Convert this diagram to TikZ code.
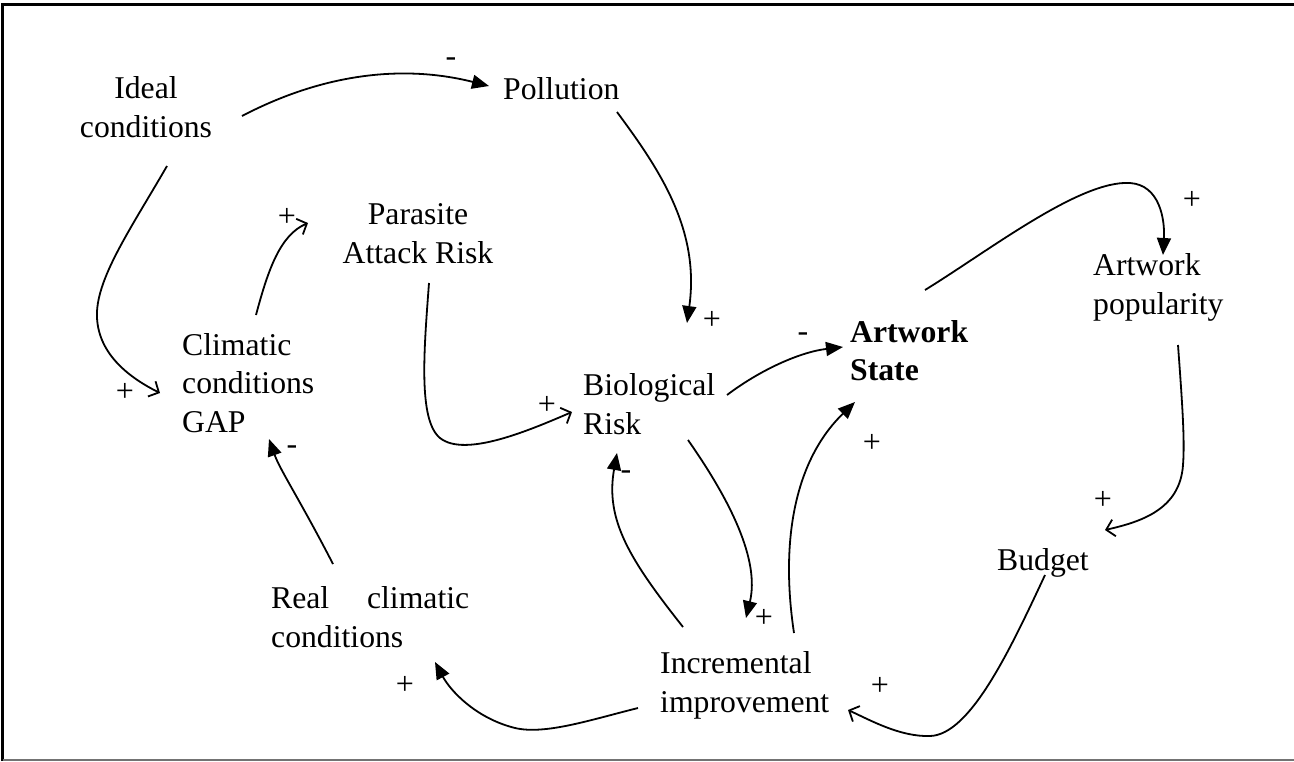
\documentclass[tikz,border=0pt]{standalone}
\usepackage{fontspec}
\setmainfont{Liberation Serif}
\usetikzlibrary{arrows.meta}

\tikzset{
  lbl/.style={inner sep=0pt, font=\fontsize{31.7}{38.3}\selectfont},
  sgn/.style={inner sep=0pt, font=\fontsize{32}{32}\selectfont},
  link/.style={line width=1.8pt},
  solidhead/.style={link, -{Triangle[length=17pt,width=14pt]}},
  openhead/.style={link, -{Straight Barb[length=8pt,width=17pt,line width=1.8pt]}},
}

\begin{document}
\begin{tikzpicture}[x=1pt,y=-1pt]
\useasboundingbox (0,0) rectangle (1294,761);
% frame
\draw[line width=3pt] (2.5,761) -- (2.5,4) -- (1294,4);
\draw[line width=2pt,black!55] (2.5,759.5) -- (1294,759.5);

% variables (each placed at the baseline of its last line)
\node[lbl, align=center, anchor=base] (ideal) at (146,137) {Ideal\\conditions};
\node[lbl, anchor=base west] (pollution) at (503,99) {Pollution};
\node[lbl, align=center, anchor=base] (parasite) at (418,263) {Parasite\\Attack Risk};
\node[lbl, align=left, anchor=base west] (gap) at (182,432) {Climatic\\conditions\\GAP};
\node[lbl, align=left, anchor=base west] (bio) at (583,434) {Biological\\Risk};
\node[lbl, align=left, anchor=base west, font=\fontsize{31.7}{38}\selectfont\bfseries] (state) at (850,380) {Artwork\\State};
\node[lbl, align=left, anchor=base west] (popularity) at (1093,314) {Artwork\\popularity};
\node[lbl, anchor=base west] (budget) at (997,570) {Budget};
\node[lbl, align=left, anchor=base west] (real) at (271,647) {\makebox[198pt][s]{Real climatic}\\conditions};
\node[lbl, align=left, anchor=base west] (incr) at (660,712) {Incremental\\improvement};

% causal links
\draw[solidhead] ([shift={(96,-21)}]ideal.base) .. controls (330,70) and (410,66) .. ([shift={(-14,-13)}]pollution.base west);
\node[sgn] (s1) at ([shift={(-52,-37)}]pollution.base west) {-};

\draw[openhead] ([shift={(21,29)}]ideal.base) .. controls (130,230) and (95,280) .. (97,318) .. controls (99,355) and (130,378) .. ([shift={(-22,-39)}]gap.base west);
\node[sgn] (s2) at ([shift={(-57,-40)}]gap.base west) {+};

\draw[openhead] ([shift={(74,-117)}]gap.base west) .. controls (268,270) and (280,235) .. ([shift={(-110,-40)}]parasite.base);
\node[sgn] (s3) at ([shift={(-131,-46)}]parasite.base) {+};

\draw[openhead] ([shift={(11,20)}]parasite.base) .. controls (424,350) and (418,420) .. (440,438) .. controls (465,458) and (530,430) .. ([shift={(-11,-22)}]bio.base west);
\node[sgn] (s4) at ([shift={(-36,-29)}]bio.base west) {+};

\draw[solidhead] ([shift={(114,13)}]pollution.base west) .. controls (660,170) and (700,230) .. ([shift={(104,-111)}]bio.base west);
\node[sgn] (s5) at ([shift={(129,-114)}]bio.base west) {+};

\draw[solidhead] ([shift={(144,-39)}]bio.base west) .. controls (760,370) and (800,352) .. ([shift={(-7,-33)}]state.base west);
\node[sgn] (s6) at ([shift={(-47,-43)}]state.base west) {-};

\draw[solidhead] ([shift={(105,6)}]bio.base west) .. controls (730,500) and (760,560) .. ([shift={(86,-94)}]incr.base west);
\node[sgn] (s7) at ([shift={(104,-94)}]incr.base west) {+};

\draw[solidhead] ([shift={(23,-85)}]incr.base west) .. controls (630,560) and (605,520) .. ([shift={(34,19)}]bio.base west);
\node[sgn] (s8) at ([shift={(43,41)}]bio.base west) {-};

\draw[solidhead] ([shift={(134,-79)}]incr.base west) .. controls (780,540) and (795,460) .. ([shift={(5,22)}]state.base west);
\node[sgn] (s9) at ([shift={(22,63)}]state.base west) {+};

\draw[solidhead] ([shift={(75,-90)}]state.base west) .. controls (990,250) and (1080,180) .. (1130,183) .. controls (1160,185) and (1165,220) .. ([shift={(70,-59)}]popularity.base west);
\node[sgn] (s10) at ([shift={(99,-114)}]popularity.base west) {+};

\draw[openhead] ([shift={(85,31)}]popularity.base west) .. controls (1182,400) and (1185,440) .. (1183,465) .. controls (1180,510) and (1140,522) .. ([shift={(108,-40)}]budget.base west);
\node[sgn] (s11) at ([shift={(106,-70)}]budget.base west) {+};

\draw[openhead] ([shift={(48,5)}]budget.base west) .. controls (1010,650) and (970,735) .. (930,736) .. controls (900,737) and (870,720) .. ([shift={(188,-2)}]incr.base west);
\node[sgn] (s12) at ([shift={(220,-26)}]incr.base west) {+};

\draw[solidhead] ([shift={(-22,-4)}]incr.base west) .. controls (590,720) and (545,735) .. (515,728) .. controls (475,718) and (450,690) .. ([shift={(164,15)}]real.base west);
\node[sgn] (s13) at ([shift={(134,38)}]real.base west) {+};

\draw[solidhead] ([shift={(62,-83)}]real.base west) .. controls (300,500) and (280,470) .. ([shift={(87,7)}]gap.base west);
\node[sgn] (s14) at ([shift={(110,18)}]gap.base west) {-};
\end{tikzpicture}
\end{document}
